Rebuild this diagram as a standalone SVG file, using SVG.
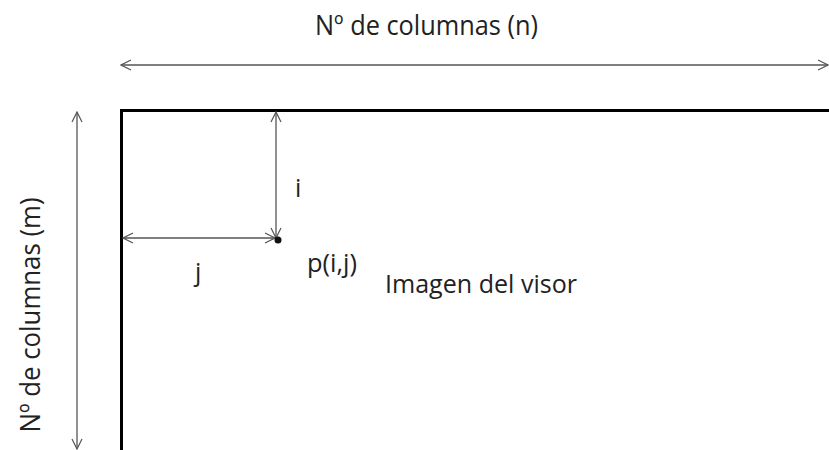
<svg xmlns="http://www.w3.org/2000/svg" width="829" height="450" viewBox="0 0 829 450">
<defs>
<marker id="ah" viewBox="0 0 12 12" refX="11" refY="6" markerWidth="12" markerHeight="12" markerUnits="userSpaceOnUse" orient="auto-start-reverse">
<path d="M1,1 L11,6 L1,11" fill="none" stroke="#555" stroke-width="1.2"/>
</marker>
</defs>
<style>
.t{font-family:"Open Sans","Liberation Sans",sans-serif;font-size:25px;fill:#222}
.big{font-size:27px}
.c{stroke:#555;stroke-width:1.3;fill:none;marker-start:url(#ah);marker-end:url(#ah)}
</style>
<rect width="829" height="450" fill="#fff"/>
<g id="frame">
<path d="M121.5,460 L121.5,110.5 L840,110.5" fill="none" stroke="#000" stroke-width="3"/>
</g>
<g id="connectors">
<line class="c" x1="121" y1="65" x2="828" y2="65"/>
<line class="c" x1="77" y1="112" x2="77" y2="449"/>
<line class="c" x1="276" y1="112" x2="276" y2="238"/>
<line class="c" x1="123" y1="238" x2="275" y2="238"/>
</g>
<g id="point">
<circle cx="278" cy="240" r="3.5" fill="#111"/>
</g>
<g id="labels">
<text class="t big" x="426.5" y="35" text-anchor="middle" textLength="223" lengthAdjust="spacingAndGlyphs">Nº de columnas (n)</text>
<text class="t big" transform="translate(40,315) rotate(-90)" text-anchor="middle" textLength="235" lengthAdjust="spacingAndGlyphs">Nº de columnas (m)</text>
<text class="t" x="295" y="197">i</text>
<text class="t" x="195" y="281">j</text>
<text class="t" x="307" y="272" textLength="50" lengthAdjust="spacingAndGlyphs">p(i,j)</text>
<text class="t" x="385" y="293" textLength="192" lengthAdjust="spacingAndGlyphs">Imagen del visor</text>
</g>
</svg>
